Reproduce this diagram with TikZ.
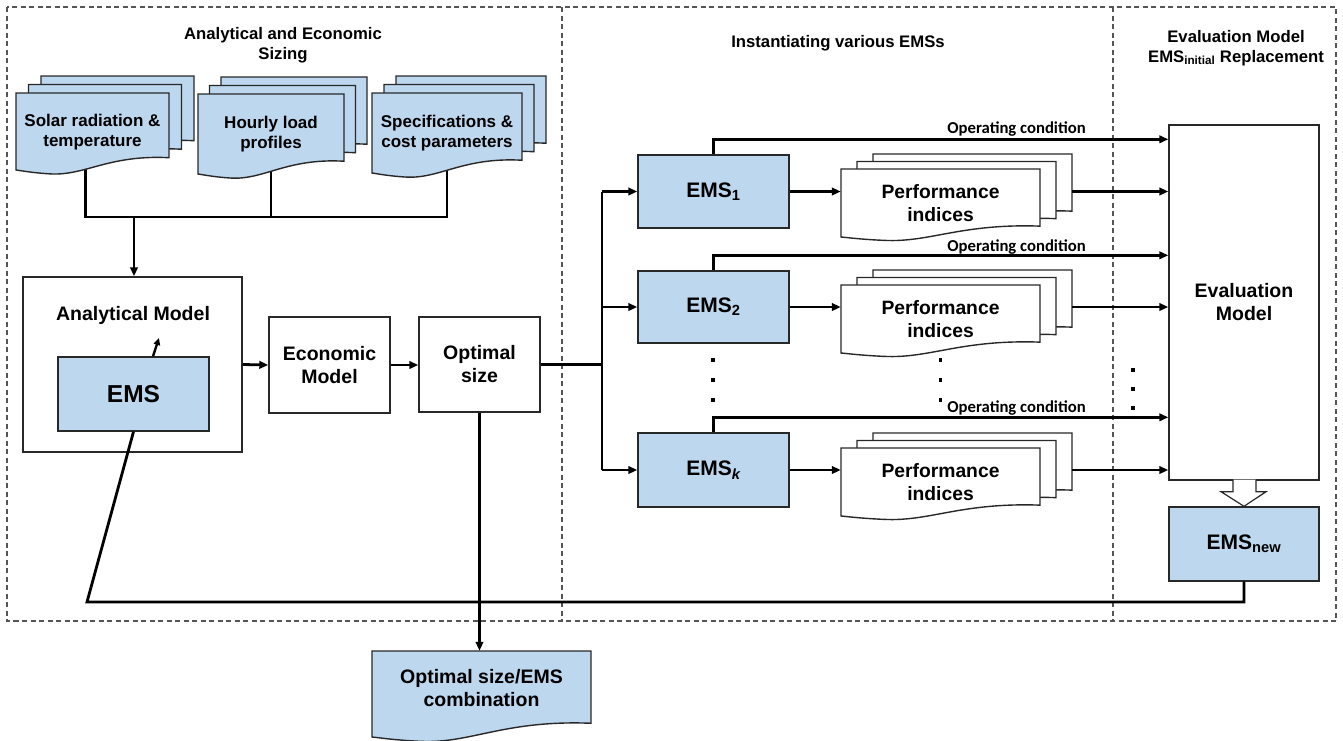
\documentclass[tikz,border=0pt]{standalone}
\usepackage{fontspec}
\setmainfont{Liberation Sans}
\newfontfamily\calfont{Carlito}
\usetikzlibrary{arrows.meta,calc}
\pgfdeclarelayer{bg}
\pgfdeclarelayer{docs}
\pgfsetlayers{bg,docs,main}

\definecolor{boxblue}{RGB}{189,215,238}
\definecolor{edgegray}{RGB}{40,40,40}
\definecolor{framegray}{RGB}{85,85,85}

\tikzset{
  boxline/.style={draw=edgegray, line width=1.4pt},
  block/.style={boxline, rectangle, align=center, inner sep=0pt,
    font=\bfseries\fontsize{19.5}{23}\selectfont},
  emsbox/.style={block, fill=boxblue, font=\bfseries\fontsize{21}{25}\selectfont},
  doctext/.style={rectangle, align=center, inner sep=0pt},
  wire/.style={line width=2.8pt, black},
  flow/.style={wire, -{Triangle[length=9pt,width=7.5pt]}},
  heading/.style={align=center, font=\bfseries\fontsize{16.7}{20}\selectfont},
  oplabel/.style={inner sep=0pt, font=\calfont\bfseries\fontsize{16.7}{20}\selectfont},
  panel/.style={draw=framegray, line width=1.2pt, dash pattern=on 5pt off 3.5pt},
}

% one page of a document symbol: left x, top y, right x, bottom y (left end), fill
\newcommand\docpage[5]{%
  \pgfmathsetmacro\docXa{#1}\pgfmathsetmacro\docYa{#2}%
  \pgfmathsetmacro\docXb{#3}\pgfmathsetmacro\docYb{#4}%
  \pgfmathsetmacro\docW{\docXb-\docXa}\pgfmathsetmacro\docH{\docYb-\docYa}%
  \filldraw[boxline, fill=#5] (\docXa,\docYa) -- (\docXb,\docYa)
    -- (\docXb,{\docYb-0.16*\docH})
    .. controls ({\docXa+0.6*\docW},{\docYb-0.2*\docH}) and ({\docXa+0.45*\docW},{\docYb+0.08*\docH})
    .. ({\docXa+0.22*\docW},{\docYb+0.05*\docH})
    .. controls ({\docXa+0.1*\docW},{\docYb+0.035*\docH}) and ({\docXa+0.04*\docW},{\docYb+0.01*\docH})
    .. (\docXa,\docYb) -- cycle;}
% a stack of three pages, offset by (dx,dy) per page
\newcommand\docstack[7]{%
  \docpage{#1+2*#5}{#2+2*#6}{#3+2*#5}{#4+2*#6}{#7}%
  \docpage{#1+#5}{#2+#6}{#3+#5}{#4+#6}{#7}%
  \docpage{#1}{#2}{#3}{#4}{#7}}

\begin{document}
\begin{tikzpicture}[x=1pt, y=-1pt]
\useasboundingbox (0,0) rectangle (1343,740);

% panels
\begin{pgfonlayer}{bg}
  \draw[panel] (7,7) rectangle (1336,621);
  \draw[panel] (562,7) -- (562,621);
  \draw[panel] (1113,7) -- (1113,621);
\end{pgfonlayer}

% headings
\node[heading] (hsizing) at (283,45) {Analytical and Economic\\Sizing};
\node[heading] (hinst) at (838,43) {Instantiating various EMSs};
\node[heading] (heval) at (1236,48) {Evaluation Model\\EMS\textsubscript{initial} Replacement};

% input documents
\begin{pgfonlayer}{docs}
  \docstack{16}{93}{169}{170}{12.5}{-8.5}{boxblue}
  \docstack{198}{94}{344}{174}{11.5}{-8.5}{boxblue}
  \docstack{372}{93}{522}{173}{12}{-8.5}{boxblue}
  \docstack{841}{169}{1040}{237}{16}{-7.5}{white}
  \docstack{841}{285}{1040}{353}{16}{-7.5}{white}
  \docstack{841}{448}{1040}{516}{16}{-7.5}{white}
  \docpage{372}{651}{591}{737}{boxblue}
\end{pgfonlayer}

\node[doctext, minimum width=153pt, minimum height=77pt, font=\bfseries\fontsize{17}{20}\selectfont]
  (solar) at (92.5,132) {Solar radiation \&\\temperature};
\node[doctext, minimum width=146pt, minimum height=80pt, font=\bfseries\fontsize{17}{20}\selectfont]
  (hourly) at (271,134) {Hourly load\\profiles};
\node[doctext, minimum width=150pt, minimum height=80pt, font=\bfseries\fontsize{17}{20}\selectfont]
  (specs) at (447,133) {Specifications \&\\cost parameters};

% sizing chain
\node[block, minimum width=219pt, minimum height=175pt] (am) at (132.5,364.5) {};
\node[inner sep=0pt, font=\bfseries\fontsize{19.5}{23}\selectfont] (amtitle) at (133,315) {Analytical Model};
\node[emsbox, minimum width=151pt, minimum height=74pt, font=\bfseries\fontsize{24.5}{28}\selectfont]
  (ems) at (133.5,394) {EMS};
\node[block, minimum width=121pt, minimum height=96pt] (econ) at (329.5,365) {Economic\\Model};
\node[block, minimum width=121pt, minimum height=95pt] (opt) at (479.5,364.5) {Optimal\\size};
\node[doctext, minimum width=219pt, minimum height=74pt, font=\bfseries\fontsize{19.5}{23}\selectfont]
  (outdoc) at (481.5,688) {Optimal size/EMS\\combination};

% EMS instances
\node[emsbox, minimum width=151pt, minimum height=73pt] (ems1) at (713.5,191.5) {EMS\textsubscript{1}};
\node[emsbox, minimum width=151pt, minimum height=72pt] (ems2) at (713.5,307) {EMS\textsubscript{2}};
\node[emsbox, minimum width=151pt, minimum height=74pt] (emsk) at (713.5,470) {EMS\textsubscript{\itshape k}};

\node[doctext, minimum width=199pt, minimum height=68pt, font=\bfseries\fontsize{19.3}{23}\selectfont]
  (perf1) at (940.5,203) {Performance\\indices};
\node[doctext, minimum width=199pt, minimum height=68pt, font=\bfseries\fontsize{19.3}{23}\selectfont]
  (perf2) at (940.5,319) {Performance\\indices};
\node[doctext, minimum width=199pt, minimum height=68pt, font=\bfseries\fontsize{19.3}{23}\selectfont]
  (perfk) at (940.5,482) {Performance\\indices};

% evaluation
\node[block, minimum width=150pt, minimum height=355pt] (eval) at (1244,302.5) {Evaluation\\Model};
\node[emsbox, minimum width=150pt, minimum height=74pt] (emsnew) at (1244,544) {EMS\textsubscript{new}};

% junction points
\coordinate (bus) at (134,217);
\coordinate (bus2) at (602,364.5);
\coordinate (emsup) at (159,338);
\coordinate (fbk) at (87,602);
\coordinate (op1) at ([yshift=15pt]ems1.north);
\coordinate (op2) at ([yshift=15pt]ems2.north);
\coordinate (opk) at ([yshift=15pt]emsk.north);

% inputs collected into the analytical model
\begin{pgfonlayer}{bg}
  \draw[wire] ([shift={(-7,-6)}]solar.south) -- ([xshift=-7pt]solar.south |- bus)
    -- (specs.south |- bus) -- ([yshift=6pt]specs.south);
  \draw[wire] ([yshift=6pt]hourly.south) -- (hourly.south |- bus);
\end{pgfonlayer}
\draw[flow] (bus) -- (bus |- am.north);
\draw[wire, line width=2.4pt, -{Triangle[length=7pt,width=6.5pt]}] ([xshift=19.5pt]ems.north) -- (emsup);
\draw[flow] (am.east) -- (econ.west);
\draw[flow] (econ.east) -- (econ.east -| opt.west);
\draw[flow] (opt.south) -- (opt.south |- outdoc.north);

% distribution to the EMS instances
\draw[wire] (opt.east) -- (bus2);
\draw[wire] (ems1.west -| bus2) -- (emsk.west -| bus2);
\draw[flow] (ems1.west -| bus2) -- (ems1.west);
\draw[flow] (ems2.west -| bus2) -- (ems2.west);
\draw[flow] (emsk.west -| bus2) -- (emsk.west);

\draw[flow] (ems1.east) -- (ems1.east -| perf1.west);
\draw[flow] (ems2.east) -- (ems2.east -| perf2.west);
\draw[flow] (emsk.east) -- (emsk.east -| perfk.west);

% operating conditions and indices into the evaluation model
\draw[flow] (ems1.north) -- (op1) -- (op1 -| eval.west);
\draw[flow] (ems2.north) -- (op2) -- (op2 -| eval.west);
\draw[flow] (emsk.north) -- (opk) -- (opk -| eval.west);
\node[oplabel, anchor=base east] (lab1) at (1086,133) {Operating condition};
\node[oplabel, anchor=base east] (lab2) at (1086,251) {Operating condition};
\node[oplabel, anchor=base east] (labk) at (1086,412) {Operating condition};

\draw[flow] (perf1.east |- ems1.east) ++(32,0) -- (eval.west |- ems1.east);
\draw[flow] (perf2.east |- ems2.east) ++(32,0) -- (eval.west |- ems2.east);
\draw[flow] (perfk.east |- emsk.east) ++(32,0) -- (eval.west |- emsk.east);

% ellipsis dots
\foreach \yy in {360,380,400} {
  \fill (711.4,\yy-1.6) rectangle ++(3.2,3.2);
  \fill (938.9,\yy-1.6) rectangle ++(3.2,3.2);
}
\foreach \yy in {370,389,408} \fill (1131.4,\yy-1.6) rectangle ++(3.2,3.2);

% replacement block arrow
\filldraw[boxline, line width=1.2pt, fill=white]
  ([shift={(-11,-1.2)}]eval.south) -- ([shift={(-11,11)}]eval.south)
  -- ([shift={(-23,11)}]eval.south) -- (emsnew.north)
  -- ([shift={(22,11)}]eval.south) -- ([shift={(12,11)}]eval.south)
  -- ([shift={(12,-1.2)}]eval.south);

% feedback of the new EMS
\draw[wire] (emsnew.south) |- (fbk) -- (ems.south);
\end{tikzpicture}
\end{document}
